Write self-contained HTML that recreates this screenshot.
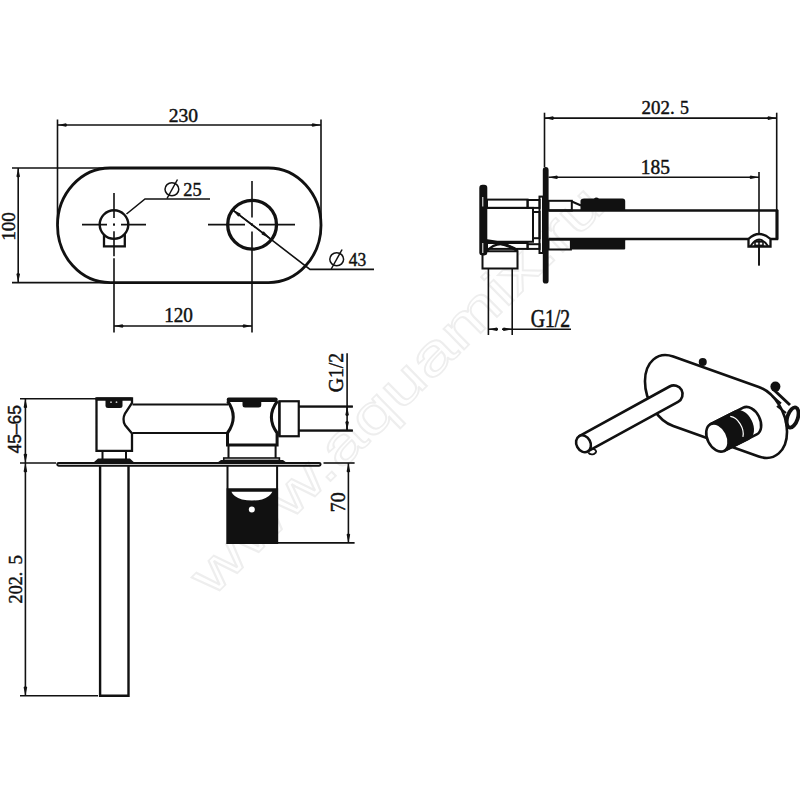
<!DOCTYPE html>
<html><head><meta charset="utf-8">
<style>
html,body{margin:0;padding:0;background:#fff;width:800px;height:800px;overflow:hidden}
svg{display:block}
text{fill:#111}
</style></head><body>
<svg width="800" height="800" viewBox="0 0 800 800">
<defs>
<marker id="a" markerWidth="10" markerHeight="5" refX="10" refY="2.5" orient="auto-start-reverse" markerUnits="userSpaceOnUse" viewBox="0 0 10 5">
<path d="M10,2.5 L1.5,0.7 Q-0.5,2.5 1.5,4.3 Z" fill="#111"/>
</marker>
</defs>
<rect width="800" height="800" fill="#fff"/>
<g transform="translate(212,598) rotate(-44.6)">
<text x="0" y="0" font-size="55" textLength="555" lengthAdjust="spacingAndGlyphs" style="font-family:'Liberation Sans',sans-serif;fill:none" stroke="#eeeeee" stroke-width="1.6">www.aquamix.ru</text>
</g>

<!-- ============ FRONT VIEW ============ -->
<g fill="none" stroke="#111">
  <g stroke-width="1.6">
    <line x1="57.5" y1="119.5" x2="57.5" y2="224"/>
    <line x1="321" y1="119.5" x2="321" y2="224"/>
    <line x1="57.5" y1="125" x2="321" y2="125" marker-start="url(#a)" marker-end="url(#a)"/>
    <line x1="12" y1="168" x2="110" y2="168"/>
    <line x1="12" y1="282.6" x2="110" y2="282.6"/>
    <line x1="18.2" y1="168" x2="18.2" y2="282.6" marker-start="url(#a)" marker-end="url(#a)"/>
    <line x1="114" y1="326" x2="252" y2="326" marker-start="url(#a)" marker-end="url(#a)"/>
    <line x1="82" y1="224.6" x2="146" y2="224.6" stroke-dasharray="25,6,2,6,60"/>
    <line x1="114" y1="193" x2="114" y2="332.5" stroke-dasharray="25,5.6,2,5.6,25,2,200"/>
    <line x1="208" y1="224.6" x2="295" y2="224.6" stroke-dasharray="37,6,2,6,80"/>
    <line x1="252" y1="181" x2="252" y2="332.5" stroke-dasharray="36.6,6,2,6,200"/>
    <polyline points="210,199 145,199 126.5,214"/>
    <polyline points="232.5,209.8 310,269.4 374,269.4"/>
  </g>
  <line x1="232.5" y1="209.8" x2="269.6" y2="238.1" stroke-width="1.4" marker-start="url(#a)" marker-end="url(#a)"/>
  <path d="M110,168 H268.5 A52.5,57.3 0 0 1 268.5,282.6 H110 A52.5,57.3 0 0 1 110,168 Z" stroke-width="2.8"/>
  <circle cx="114" cy="224.6" r="14.3" stroke-width="2.4"/>
  <path d="M104,235 V246.3 H124.8 V234" stroke-width="2.3"/>
  <circle cx="252.1" cy="224.7" r="24.4" stroke-width="3.3"/>
  <!-- diameter symbols -->
  <g stroke-width="1.5">
    <ellipse cx="171.9" cy="189.25" rx="6.9" ry="6.6"/><line x1="167" y1="198.5" x2="177.5" y2="179.5"/>
    <ellipse cx="336.7" cy="259.25" rx="6.9" ry="6.6"/><line x1="331.25" y1="269" x2="342.1" y2="249.5"/>
  </g>
</g>

<!-- ============ SIDE VIEW ============ -->
<g fill="none" stroke="#111">
  <g stroke-width="1.6">
    <line x1="544.5" y1="112.7" x2="544.5" y2="167"/>
    <line x1="776.7" y1="112.7" x2="776.7" y2="210.5"/>
    <line x1="544.5" y1="118.1" x2="776.7" y2="118.1" marker-start="url(#a)" marker-end="url(#a)"/>
    <line x1="548.5" y1="177.3" x2="759" y2="177.3" marker-start="url(#a)" marker-end="url(#a)"/>
    <line x1="759" y1="172" x2="759" y2="265.5"/>
    <line x1="488.4" y1="269" x2="488.4" y2="335"/>
    <line x1="512.2" y1="269" x2="512.2" y2="335"/>
    <line x1="498" y1="329.2" x2="488.4" y2="329.2" marker-end="url(#a)"/>
    <line x1="502" y1="329.2" x2="512.2" y2="329.2" marker-end="url(#a)"/>
    <line x1="512.2" y1="329.2" x2="571" y2="329.2"/>
  </g>
  <path d="M548.5,210.5 H777 V239 H548.5" stroke-width="2.3"/>
  <line x1="777" y1="210" x2="777" y2="239.5" stroke-width="3"/>
  <g stroke-width="2">
    <rect x="487" y="199.6" width="40.6" height="8.3"/>
    <rect x="482.5" y="207.9" width="50.5" height="33.85"/>
    <rect x="487" y="243" width="40.6" height="5.9"/>
    <rect x="527.6" y="200" width="12" height="7.9"/>
    <rect x="533" y="212" width="6.6" height="26.2"/>
    <rect x="527.6" y="244.2" width="12" height="4.7"/>
    <rect x="482.5" y="251.25" width="35" height="17.25"/>
    <path d="M486.6,251.25 Q499.7,237 517.5,251.25"/>
    <rect x="539.5" y="196.6" width="3.5" height="56.4"/>
    <rect x="548.5" y="200.8" width="23.3" height="9.7"/>
    <rect x="548.5" y="239.6" width="22.4" height="9.9"/>
    <path d="M571.8,201.5 L581,205.5"/>
    <path d="M748.5,246.5 V239 Q759,229 770.5,239 V246.5 Z" fill="#fff" stroke-width="2.3"/>
    <path d="M750.5,246 Q759,233 768,246" stroke-width="1.8"/>
    <rect x="755" y="241.8" width="8" height="3.6" stroke-width="1.6" fill="#fff"/>
    <line x1="759" y1="239" x2="759" y2="265.5" stroke-width="1.6"/>
  </g>
  <path d="M485.4,240.6 Q505,243 517.5,250.5" stroke-width="3"/>
</g>
<g fill="#111">
  <rect x="542.8" y="167" width="5.8" height="116.6" rx="2.9"/>
  <rect x="479.3" y="184.7" width="8" height="70.7" rx="3.2"/>
  <path d="M580.5,210.5 V200.5 Q581,198.5 584,198.5 H594 Q596,196.5 599,198.5 H622.5 Q625.2,198.5 625.2,201 V210.5 Z"/>
  <rect x="570.9" y="239.3" width="54.3" height="10.3" rx="1"/>
</g>
<g stroke="#fff" stroke-width="1" fill="none">
  <line x1="482.8" y1="197" x2="482.8" y2="206.5"/>
  <line x1="482.8" y1="243" x2="482.8" y2="253"/>
</g>

<!-- ============ PLAN VIEW ============ -->
<g fill="none" stroke="#111">
  <g stroke-width="1.6">
    <line x1="20" y1="398.7" x2="96" y2="398.7"/>
    <line x1="25.4" y1="398.7" x2="25.4" y2="463" marker-start="url(#a)" marker-end="url(#a)"/>
    <line x1="20" y1="463" x2="56" y2="463"/>
    <line x1="25.4" y1="463" x2="25.4" y2="695.75" marker-start="url(#a)" marker-end="url(#a)"/>
    <line x1="20" y1="695.75" x2="98" y2="695.75"/>
    <line x1="347.1" y1="353.3" x2="347.1" y2="430.6"/>
    <line x1="298.75" y1="406.6" x2="352.8" y2="406.6"/>
    <line x1="298.75" y1="430.6" x2="352.8" y2="430.6"/>
    <line x1="323.5" y1="463" x2="354.6" y2="463"/>
    <line x1="277.1" y1="542.9" x2="354.6" y2="542.9"/>
    <line x1="348.4" y1="463" x2="348.4" y2="542.9" marker-start="url(#a)" marker-end="url(#a)"/>
    <line x1="347.1" y1="416" x2="347.1" y2="406.6" marker-end="url(#a)"/>
    <line x1="347.1" y1="421" x2="347.1" y2="430.6" marker-end="url(#a)"/>
  </g>
  <!-- plate -->
  <rect x="57.25" y="462.9" width="263.35" height="2.85" rx="1.4" stroke-width="2"/>
  <!-- body bar -->
  <g stroke-width="2">
    <line x1="132.5" y1="404.4" x2="228" y2="404.4"/>
    <line x1="132.5" y1="433.1" x2="228" y2="433.1"/>
    <line x1="298.75" y1="406.4" x2="352.8" y2="406.4"/>
    <line x1="298.75" y1="430.6" x2="352.8" y2="430.6"/>
  </g>
  <!-- small knob -->
  <path d="M96.5,398.5 H132 V403 L125,413.5 Q122,419.5 125,425 L132,433.5 V450.8 H96.5 Z" stroke-width="2.3" fill="#fff"/>
  <path d="M102.5,451 V459 M126,451 V459" stroke-width="2"/>
  <!-- big knob -->
  <path d="M227.5,401 Q239,417 227.5,433 V445 H277.1 V433 Q265.5,417 277.5,401" stroke-width="3" fill="#fff"/>
  <line x1="227.5" y1="445" x2="277.1" y2="445" stroke-width="2.2"/>
  <path d="M228.5,445 V458 M275.6,445 V458" stroke-width="2"/>
  <rect x="223.75" y="458" width="55.65" height="2.4" stroke-width="1.6"/>
  <rect x="279.4" y="401.25" width="19.35" height="35" stroke-width="2.2" fill="#fff"/>
  <!-- lower body -->
  <path d="M227.5,466 V543 H277.1 V466" stroke-width="2"/>
  <path d="M100.1,466 V695.75 H128.5 V466" stroke-width="2.4"/>
</g>
<g fill="#111">
  <rect x="95.5" y="397.4" width="37.2" height="3.4" rx="1.5"/>
  <path d="M105.5,400 H122.5 V405.5 Q122.5,408 120,408 H108 Q105.5,408 105.5,405.5 Z"/>
  <path d="M93.5,462.4 L98,458.6 H130 L134.2,462.4 Z"/>
  <rect x="226.7" y="397.5" width="51" height="4.4" rx="2"/>
  <path d="M242.5,400 H261.25 V405 Q261.25,407.5 258.5,407.5 H245 Q242.5,407.5 242.5,405 Z"/>
  <path d="M217.5,462.4 L221,460 H283 L286.25,462.4 Z"/>
  <path fill-rule="evenodd" d="M226.6,488.25 H278.1 V543.9 H226.6 Z M231.4,491.8 H272.35 Q270,497 262,499.5 Q252,501.5 242,499.5 Q233.5,497 231.4,491.8 Z"/>
</g>
<g fill="#fff" stroke="none">
  <circle cx="251.8" cy="509.6" r="3"/>
  <circle cx="111" cy="402.2" r="0.9" fill="#ccc"/>
  <circle cx="116.5" cy="402.2" r="0.9" fill="#ccc"/>
</g>
<line x1="279.4" y1="401.25" x2="279.4" y2="436.25" stroke="#111" stroke-width="2.2"/>

<!-- ============ 3D VIEW ============ -->
<g stroke="#111" stroke-width="2.6" fill="#fff" stroke-linejoin="round">
  <!-- plate -->
  <path transform="matrix(0.942,0.335,0,34.75,716,406.5)" vector-effect="non-scaling-stroke" d="M-45.4,-1 H45.4 A30,1 0 0 1 45.4,1 H-45.4 A30,1 0 0 1 -45.4,-1 Z"/>
  <circle cx="702.75" cy="362" r="4" fill="#111" stroke="none"/>
  <circle cx="775.4" cy="386.6" r="5" fill="#111" stroke="none"/>
  <!-- right connector -->
  <path d="M774,390 L790,405" fill="none" stroke-width="3"/>
  <path d="M772,396 L781,403.5 M777,406 L786,413" fill="none" stroke-width="2.2"/>
  <ellipse cx="792.6" cy="417.5" rx="5.2" ry="10.5" transform="rotate(18 792.6 417.5)" stroke-width="3.8"/>
  <!-- spout -->
  <g transform="translate(583.5,443.75) rotate(-28.75)">
    <path d="M0,-8.8 H103 A8.8,8.8 0 0 1 103,8.8 H0 Z"/>
    <ellipse cx="0" cy="0" rx="7" ry="8.8"/>
    <path d="M6,9 Q10,14 4,14 Q0,13 0,10" fill="none" stroke-width="1.8"/>
  </g>
  <!-- knob -->
  <g transform="translate(717.4,437.5) rotate(-26.8)">
    <path d="M0,-15 H36.5 A10,15 0 0 1 36.5,15 H0 Z"/>
    <path d="M0,-15 H27 A10,15 0 0 1 27,15 H0 Z" fill="#111"/>
    <path d="M21,-13 A9,14 0 0 1 23,11" fill="none" stroke="#fff" stroke-width="1.2"/>
    <ellipse cx="0" cy="0" rx="10" ry="15"/>
  </g>
</g>

<g>
<text transform="matrix(0.2443,0,0,0.2402,168.667,121.720)" x="0" y="0" font-size="80" style="font-family:'Liberation Serif', serif" stroke="#111" stroke-width="1.8">230</text>
<text transform="matrix(0.2402,0,0,0.2509,164.159,322.298)" x="0" y="0" font-size="80" style="font-family:'Liberation Serif', serif" stroke="#111" stroke-width="1.8">120</text>
<text transform="matrix(0,-0.2402,0.2411,0,14.518,240.841)" x="0" y="0" font-size="80" style="font-family:'Liberation Serif', serif" stroke="#111" stroke-width="1.8">100</text>
<text transform="matrix(0.2293,0,0,0.2382,183.212,195.762)" x="0" y="0" font-size="80" style="font-family:'Liberation Serif', serif" stroke="#111" stroke-width="1.8">25</text>
<text transform="matrix(0.2188,0,0,0.2482,348.681,265.504)" x="0" y="0" font-size="80" style="font-family:'Liberation Serif', serif" stroke="#111" stroke-width="1.8">43</text>
<text transform="matrix(0.2365,0,0,0.2339,641.541,114.232)" x="0" y="0" font-size="80" style="font-family:'Liberation Serif', serif" stroke="#111" stroke-width="1.8">202.</text>
<text transform="matrix(0.2235,0,0,0.2382,680.106,114.462)" x="0" y="0" font-size="80" style="font-family:'Liberation Serif', serif" stroke="#111" stroke-width="1.8">5</text>
<text transform="matrix(0.2429,0,0,0.2500,640.743,173.500)" x="0" y="0" font-size="80" style="font-family:'Liberation Serif', serif" stroke="#111" stroke-width="1.8">185</text>
<text transform="matrix(0.2458,0,0,0.3018,530.758,326.896)" x="0" y="0" font-size="80" style="font-family:'Liberation Serif', serif" stroke="#111" stroke-width="1.8">G1/2</text>
<text transform="matrix(0,-0.2178,0.2267,0,21.447,453.418)" x="0" y="0" font-size="80" style="font-family:'Liberation Sans', sans-serif" stroke="#111" stroke-width="1.8">45–65</text>
<text transform="matrix(0,-0.2274,0.2420,0,21.816,603.432)" x="0" y="0" font-size="80" style="font-family:'Liberation Serif', serif" stroke="#111" stroke-width="1.8">202.</text>
<text transform="matrix(0,-0.2353,0.2464,0,22.054,564.441)" x="0" y="0" font-size="80" style="font-family:'Liberation Serif', serif" stroke="#111" stroke-width="1.8">5</text>
<text transform="matrix(0,-0.2471,0.2723,0,343.455,392.294)" x="0" y="0" font-size="80" style="font-family:'Liberation Serif', serif" stroke="#111" stroke-width="1.8">G1/2</text>
<text transform="matrix(0,-0.2486,0.2500,0,344.900,512.295)" x="0" y="0" font-size="80" style="font-family:'Liberation Serif', serif" stroke="#111" stroke-width="1.8">70</text>
</g>
</svg>
</body></html>
